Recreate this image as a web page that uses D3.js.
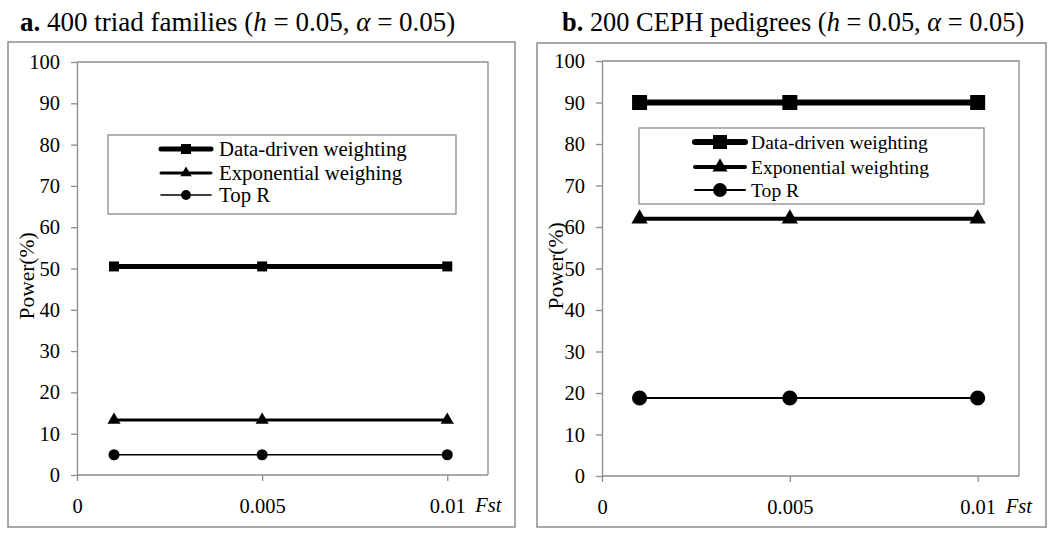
<!DOCTYPE html>
<html>
<head>
<meta charset="utf-8">
<script src="https://cdn.jsdelivr.net/npm/d3@7"></script>
<style>
  html, body { margin: 0; padding: 0; background: #fff; }
  svg { display: block; }
</style>
</head>
<body>
<svg id="chart" width="1050" height="534"></svg>
<script>
// ---------- DATA ----------
const fstValues = [0.001, 0.005, 0.01];
const xTickValues = [0, 0.005, 0.01];
const xTickLabels = ["0", "0.005", "0.01"];
const yTickValues = [0, 10, 20, 30, 40, 50, 60, 70, 80, 90, 100];

const triadSeriesNames = ["Data-driven weighting", "Exponential weighing", "Top R"];
const triadDataDriven = [50.5, 50.5, 50.5];
const triadExponential = [13.3, 13.3, 13.3];
const triadTopR = [4.9, 4.9, 4.9];

const cephSeriesNames = ["Data-driven weighting", "Exponential weighting", "Top R"];
const cephDataDriven = [90, 90, 90];
const cephExponential = [62, 62, 62];
const cephTopR = [18.8, 18.8, 18.8];

// ---------- LAYOUT ----------
const FONT = "Liberation Serif";
const svg = d3.select("#chart").attr("font-family", FONT);
const GRAY = "#8c8c8c";

const panels = [
  {
    letter: "a.", titleRest: " 400 triad families (", titleX: 20, titleSize: 27,
    frame: {x: 8, y: 42, w: 507, h: 485},
    plot: {x0: 77, x1: 488, y0: 62, y1: 475},
    series: [
      {name: triadSeriesNames[0], values: triadDataDriven, symbol: d3.symbolSquare, size: 100, lw: 5, lsize: 100},
      {name: triadSeriesNames[1], values: triadExponential, symbol: d3.symbolTriangle, size: 75, lw: 3, lsize: 55},
      {name: triadSeriesNames[2], values: triadTopR, symbol: d3.symbolCircle, size: 95, lw: 1.6, lsize: 75}
    ],
    legend: {x: 108, y: 135, w: 348, h: 79, rows: [149, 173, 195], lx0: 161, lx1: 211, tx: 219, fs: 20.8},
    ylabel: {x: 34, y: 276}
  },
  {
    letter: "b.", titleRest: " 200 CEPH pedigrees (", titleX: 562, titleSize: 26.4,
    frame: {x: 537, y: 43, w: 509, h: 484},
    plot: {x0: 602, x1: 1019, y0: 61, y1: 476},
    series: [
      {name: cephSeriesNames[0], values: cephDataDriven, symbol: d3.symbolSquare, size: 225, lw: 6, lsize: 196},
      {name: cephSeriesNames[1], values: cephExponential, symbol: d3.symbolTriangle, size: 115, lw: 4, lsize: 100},
      {name: cephSeriesNames[2], values: cephTopR, symbol: d3.symbolCircle, size: 180, lw: 2, lsize: 150}
    ],
    legend: {x: 639, y: 128, w: 345, h: 76, rows: [142, 167, 190], lx0: 695, lx1: 745, tx: 751, fs: 19.6},
    ylabel: {x: 563, y: 266}
  }
];

function txt(sel) {
  return sel.attr("font-family", FONT).attr("fill", "#000");
}

panels.forEach(p => {
  const g = svg.append("g");

  // Title
  const t = txt(g.append("text")).attr("x", p.titleX).attr("y", 31).attr("font-size", p.titleSize);
  t.append("tspan").attr("font-weight", "bold").text(p.letter);
  t.append("tspan").text(p.titleRest);
  t.append("tspan").attr("font-style", "italic").text("h");
  t.append("tspan").text(" = 0.05, ");
  t.append("tspan").attr("font-style", "italic").text("α");
  t.append("tspan").text(" = 0.05)");

  // Outer frame
  g.append("rect")
    .attr("x", p.frame.x).attr("y", p.frame.y)
    .attr("width", p.frame.w).attr("height", p.frame.h)
    .attr("fill", "none").attr("stroke", GRAY).attr("stroke-width", 1.5);

  const x = d3.scaleLinear().domain([0, 0.0111]).range([p.plot.x0, p.plot.x1]);
  const y = d3.scaleLinear().domain([0, 100]).range([p.plot.y1, p.plot.y0]);

  // Plot-area border (top & right)
  g.append("path")
    .attr("d", `M${p.plot.x0},${p.plot.y0}H${p.plot.x1}V${p.plot.y1}`)
    .attr("fill", "none").attr("stroke", GRAY).attr("stroke-width", 1.3);

  // Y axis
  const yAxis = g.append("g").attr("transform", `translate(${p.plot.x0},0)`)
    .call(d3.axisLeft(y).tickValues(yTickValues).tickSize(6).tickSizeOuter(0).tickPadding(11));
  yAxis.attr("font-family", FONT).attr("font-size", 20.5);
  yAxis.selectAll("path, line").attr("stroke", GRAY).attr("stroke-width", 1.3);
  txt(yAxis.selectAll("text"));

  // X axis
  const xAxis = g.append("g").attr("transform", `translate(0,${p.plot.y1})`)
    .call(d3.axisBottom(x).tickValues(xTickValues).tickFormat((d, i) => xTickLabels[i]).tickSize(6).tickSizeOuter(0).tickPadding(17));
  xAxis.attr("font-family", FONT).attr("font-size", 20.5);
  xAxis.selectAll("path, line").attr("stroke", GRAY).attr("stroke-width", 1.3);
  xAxis.select(".domain").attr("d", `M${p.plot.x0},0H${p.plot.x1}`);
  txt(xAxis.selectAll("text"));

  // Fst label
  txt(g.append("text"))
    .attr("x", x(0.01) + 28).attr("y", p.plot.y1 + 37)
    .attr("font-size", 20.5).attr("font-style", "italic").text("Fst");

  // Y label
  txt(g.append("text"))
    .attr("transform", `translate(${p.ylabel.x},${p.ylabel.y}) rotate(-90)`)
    .attr("text-anchor", "middle")
    .attr("font-size", 21.5).text("Power(%)");

  // Series
  const line = d3.line().x((d, i) => x(fstValues[i])).y(d => y(d));
  p.series.forEach(s => {
    g.append("path").datum(s.values)
      .attr("d", line).attr("fill", "none").attr("stroke", "#000").attr("stroke-width", s.lw);
    g.selectAll(null).data(s.values).enter().append("path")
      .attr("transform", (d, i) => `translate(${x(fstValues[i])},${y(d)})`)
      .attr("d", d3.symbol().type(s.symbol).size(s.size)())
      .attr("fill", "#000");
  });

  // Legend
  const L = p.legend;
  g.append("rect").attr("x", L.x).attr("y", L.y).attr("width", L.w).attr("height", L.h)
    .attr("fill", "#fff").attr("stroke", GRAY).attr("stroke-width", 1.3);
  p.series.forEach((s, i) => {
    const ry = L.rows[i];
    g.append("line").attr("x1", L.lx0).attr("x2", L.lx1).attr("y1", ry).attr("y2", ry)
      .attr("stroke", "#000").attr("stroke-width", s.lw).attr("stroke-linecap", "round");
    g.append("path").attr("transform", `translate(${(L.lx0 + L.lx1) / 2},${ry})`)
      .attr("d", d3.symbol().type(s.symbol).size(s.lsize)()).attr("fill", "#000");
    txt(g.append("text")).attr("x", L.tx).attr("y", ry).attr("dy", "0.35em")
      .attr("font-size", L.fs).text(s.name);
  });
});
</script>
</body>
</html>
